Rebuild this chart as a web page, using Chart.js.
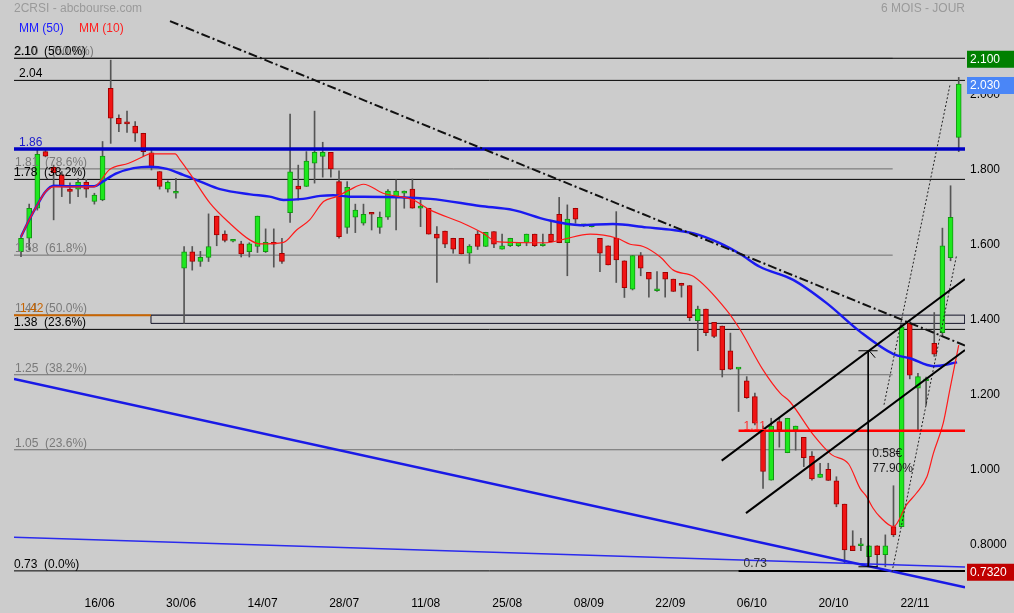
<!DOCTYPE html>
<html>
<head>
<meta charset="utf-8">
<script src="https://cdn.jsdelivr.net/npm/chart.js@4.4.1/dist/chart.umd.min.js"></script>
<style>
  html, body { margin: 0; padding: 0; background: #cccccc; overflow: hidden; }
  canvas { display: block; background: #cccccc; }
</style>
</head>
<body>
<canvas id="chart" width="1014" height="613"></canvas>
<script>
// ---- data ----
const dateTicks = [10, 20, 30, 40, 50, 60, 70, 80, 90, 100, 110];
const dateLabels = ['16/06', '30/06', '14/07', '28/07', '11/08', '25/08', '08/09', '22/09', '06/10', '20/10', '22/11'];

const open = [1.584,1.62,1.70,1.851,1.809,1.789,1.751,1.751,1.769,1.718,
  1.722,2.02,1.94,1.927,1.919,1.90,1.848,1.798,1.751,1.74,
  1.54,1.584,1.558,1.569,1.679,1.631,1.612,1.605,1.584,1.598,
  1.584,1.609,1.58,1.688,1.759,1.758,1.82,1.838,1.849,1.771,
  1.649,1.676,1.66,1.686,1.649,1.676,1.731,1.74,1.751,1.70,
  1.70,1.631,1.639,1.62,1.62,1.58,1.631,1.598,1.638,1.591,
  1.60,1.60,1.609,1.631,1.60,1.631,1.684,1.608,1.70,1.653,
  1.651,1.62,1.60,1.62,1.56,1.484,1.574,1.529,1.48,1.529,
  1.511,1.50,1.494,1.40,1.431,1.396,1.386,1.32,1.271,1.24,
  1.198,1.109,0.975,1.131,1.048,1.109,1.089,1.039,0.982,1.004,
  0.973,0.911,0.80,0.80,0.771,0.80,0.776,0.851,0.851,1.393,
  1.22,1.24,1.34,1.368,1.568,1.889];
const high = [1.625,1.711,1.855,1.855,1.815,1.798,1.768,1.78,1.777,1.74,
  1.878,2.095,1.949,1.959,1.931,1.90,1.855,1.798,1.773,1.78,
  1.598,1.598,1.585,1.685,1.679,1.64,1.615,1.612,1.608,1.679,
  1.645,1.645,1.62,1.951,1.815,1.851,1.959,1.876,1.849,1.80,
  1.771,1.711,1.711,1.687,1.69,1.75,1.776,1.746,1.778,1.722,
  1.70,1.651,1.639,1.62,1.62,1.603,1.64,1.636,1.638,1.631,
  1.62,1.609,1.631,1.631,1.631,1.666,1.729,1.709,1.70,1.656,
  1.655,1.62,1.60,1.691,1.56,1.574,1.582,1.529,1.531,1.529,
  1.511,1.50,1.494,1.439,1.431,1.396,1.386,1.367,1.273,1.251,
  1.207,1.119,1.14,1.14,1.14,1.119,1.089,1.051,1.02,1.02,
  0.984,0.911,0.84,0.82,0.80,0.80,0.829,0.96,1.39,1.40,
  1.26,1.25,1.422,1.647,1.76,2.049];
const low = [1.571,1.589,1.695,1.837,1.669,1.731,1.713,1.731,1.729,1.711,
  1.72,1.873,1.904,1.902,1.878,1.838,1.802,1.751,1.743,1.727,
  1.393,1.535,1.545,1.558,1.60,1.61,1.61,1.57,1.57,1.582,
  1.582,1.543,1.553,1.662,1.722,1.758,1.767,1.783,1.783,1.62,
  1.633,1.635,1.655,1.642,1.633,1.67,1.642,1.70,1.70,1.651,
  1.631,1.502,1.595,1.58,1.578,1.553,1.59,1.598,1.595,1.591,
  1.598,1.598,1.60,1.598,1.599,1.611,1.608,1.52,1.66,1.651,
  1.65,1.531,1.549,1.502,1.462,1.482,1.52,1.463,1.478,1.463,
  1.478,1.463,1.40,1.32,1.36,1.355,1.25,1.27,1.158,1.193,
  1.122,0.953,0.975,1.063,1.048,1.055,1.011,0.975,0.982,0.974,
  0.904,0.753,0.787,0.787,0.744,0.744,0.744,0.824,0.851,1.245,
  1.109,1.175,1.305,1.36,1.56,1.851];
const close = [1.62,1.70,1.844,1.839,1.795,1.758,1.745,1.769,1.751,1.735,
  1.839,1.94,1.925,1.925,1.90,1.851,1.809,1.758,1.769,1.745,
  1.584,1.558,1.569,1.598,1.629,1.614,1.612,1.578,1.605,1.679,
  1.609,1.604,1.558,1.797,1.751,1.826,1.849,1.849,1.805,1.624,
  1.756,1.695,1.684,1.684,1.676,1.746,1.746,1.746,1.70,1.706,
  1.631,1.62,1.604,1.591,1.578,1.599,1.598,1.636,1.604,1.60,
  1.62,1.609,1.631,1.60,1.60,1.611,1.608,1.671,1.671,1.653,
  1.651,1.58,1.549,1.562,1.488,1.574,1.54,1.511,1.48,1.511,
  1.478,1.494,1.408,1.431,1.368,1.358,1.269,1.271,1.271,1.195,
  1.127,0.998,1.119,1.109,1.14,1.119,1.035,0.978,0.991,0.974,
  0.911,0.789,0.787,0.80,0.80,0.776,0.80,0.829,1.384,1.255,
  1.251,1.245,1.311,1.60,1.676,2.031];

// moving averages, read at candle positions
const mm50Idx = [0,1,2,3,4,6,9,10,11.7,13.8,15.8,17.9,19.9,22,24.4,28.1,30.5,32.2,34.6,36.7,
  38.3,40.3,42,50.2,56.3,60.4,64.5,68.6,72.6,76.7,80,82.5,85.7,88.2,90.6,94.7,98.8,102.9,107,109,111.9,114.8];
const mm50Val = [1.624,1.669,1.709,1.744,1.76,1.759,1.759,1.771,1.793,1.807,1.811,1.805,1.789,1.771,1.751,1.737,1.731,1.722,1.725,1.733,
  1.735,1.731,1.731,1.725,1.706,1.695,1.669,1.655,1.658,1.649,1.642,1.633,1.607,1.578,1.544,1.509,1.447,1.371,1.311,1.30,1.279,1.289];
const mm10Idx = [0,1,2,3,4,8.9,10.9,13.2,15,15.8,18.9,19.5,20.7,23.2,25.6,28.1,29.3,32.2,33.8,35.4,
  37.1,38.7,40.3,42,44.4,48.1,50.2,54.2,56.7,58.3,62.4,64.5,66.5,69.8,73.1,74.7,76.3,78.4,80,82.5,
  86.5,88.2,91,93.1,94.3,97.2,99.4,101.5,102.9,103.7,104.5,105.3,107,108.6,109.8,111.1,111.9,113.1,113.9,115];
const mm10Val = [1.624,1.669,1.709,1.744,1.757,1.757,1.804,1.82,1.838,1.845,1.845,1.829,1.793,1.713,1.66,1.615,1.605,1.609,1.642,1.669,
  1.718,1.731,1.749,1.764,1.74,1.722,1.695,1.66,1.633,1.611,1.608,1.608,1.617,1.631,1.62,1.604,1.598,1.57,1.535,1.518,
  1.429,1.376,1.269,1.207,1.184,1.095,1.043,1.018,0.953,0.931,0.90,0.878,0.851,0.909,0.94,0.984,1.047,1.127,1.215,1.335];

// horizontal levels
const blackLevels = [2.10, 2.041, 1.777, 1.377, 0.733];
const blackLabels = ['2.10  (50.0%)', '2.04', '1.78  (38.2%)', '1.38  (23.6%)', '0.73  (0.0%)'];
const grayLevels = [2.10, 1.805, 1.575, 1.415, 1.256, 1.056];
const grayLabels = ['2.10    (50.0%)', '1.81  (78.6%)', '1.58  (61.8%)', '1.41  (50.0%)', '1.25  (38.2%)', '1.05  (23.6%)'];
const fibEnd = 106.9;
const blueLevel = 1.858, blueLabel = '1.86';
const orangeLevel = 1.415, orangeEnd = 15.94, orangeLabel = '1.42';
const zoneTop = 1.415, zoneBottom = 1.393, zoneStart = 15.94;
const redLevel = 1.107, redStart = 88, redLabel = '1.11';
const lowLevel = 0.733, lowStart = 88, lowLabel = '0.73';

// trend lines [candle index, price]
const dashDotLine = [[18.27, 2.199], [115.77, 1.334]];
const wedgeUpper = [[-0.86, 1.245], [115.77, 0.689]];
const wedgeLower = [[-0.86, 0.823], [115.77, 0.743]];
const channelUpper = [[85.93, 1.027], [115.77, 1.511]];
const channelLower = [[88.91, 0.887], [115.77, 1.322]];
const dottedA = [[105.84, 1.176], [113.93, 2.029]];
const dottedB = [[106.82, 0.730], [114.75, 1.576]];

// measure tool
const measureX = 103.9, measureTop = 1.32, measureBottom = 0.744;
const measureCap = [102.7, 105.05];
const measureText = ['0.58€', '77.90%'];

// right axis
const yTickVals = [0.8, 1.0, 1.2, 1.4, 1.6, 1.8, 2.0];
const yTickLabels = ['0.8000', '1.000', '1.200', '1.400', '1.600', '1.800', '2.000'];
const tagValues = [2.10, 2.03, 0.732];
const tagTexts = ['2.100', '2.030', '0.7320'];
const tagColors = ['#008000', '#4a86f7', '#c00000'];

// ---- chart ----
const FONT = '"Liberation Sans", Arial, sans-serif';
const idx = open.map((_, i) => i);
const toPts = arr => arr.map(p => ({x: p[0], y: p[1]}));
const zip = (xs, ys) => xs.map((x, k) => ({x: x, y: ys[k]}));
const hline = (v, a, b) => [{x: a, y: v}, {x: b, y: v}];
const X_MIN = -0.86, X_MAX = 115.77;

function lineSet(data, color, width, order, dash) {
  return {
    type: 'line', data: data, borderColor: color, borderWidth: width,
    borderDash: dash || [], pointRadius: 0, fill: false, tension: 0, order: order
  };
}

const datasets = [];
grayLevels.forEach(v => datasets.push(lineSet(hline(v, X_MIN, fibEnd), '#6e6e6e', 1, 20)));
blackLevels.forEach(v => datasets.push(lineSet(hline(v, X_MIN, X_MAX), '#000000', 1, 19)));
datasets.push(lineSet(hline(orangeLevel, X_MIN, orangeEnd), '#c86400', 2, 18));
datasets.push(lineSet([
  {x: zoneStart, y: zoneTop}, {x: X_MAX, y: zoneTop}, {x: X_MAX, y: zoneBottom},
  {x: zoneStart, y: zoneBottom}, {x: zoneStart, y: zoneTop}
], '#141428', 1, 18));

datasets.push({
  type: 'bar', data: idx.map(i => ({x: i, y: [low[i], high[i]]})),
  backgroundColor: '#555555', barThickness: 1, grouped: false, minBarLength: 1, order: 15
});
datasets.push({
  type: 'bar', data: idx.map(i => ({x: i, y: [open[i], close[i]]})),
  backgroundColor: idx.map(i => close[i] >= open[i] ? '#1ee81e' : '#f01414'),
  borderColor: idx.map(i => close[i] >= open[i] ? '#129612' : '#a00000'),
  borderWidth: 1, borderSkipped: false, barThickness: 5, grouped: false, minBarLength: 2, order: 14
});

datasets.push(lineSet(hline(blueLevel, X_MIN, X_MAX), '#0000c4', 3.5, 10));
const mm50 = lineSet(zip(mm50Idx, mm50Val), '#1a1af0', 2.5, 9);
mm50.cubicInterpolationMode = 'monotone';
const mm10 = lineSet(zip(mm10Idx, mm10Val), '#ff1a1a', 1.2, 8);
mm10.cubicInterpolationMode = 'monotone';
datasets.push(mm50, mm10);

datasets.push(lineSet(hline(redLevel, redStart, X_MAX), '#ff0000', 2.5, 7));
datasets.push(lineSet(hline(lowLevel, lowStart, X_MAX), '#000000', 2, 7));
datasets.push(lineSet(toPts(wedgeUpper), '#1a1ae6', 2.5, 6));
datasets.push(lineSet(toPts(wedgeLower), '#2a2aee', 1.5, 6));
datasets.push(lineSet(toPts(dashDotLine), '#111111', 2, 5, [9, 3, 2, 3]));
datasets.push(lineSet(toPts(channelUpper), '#000000', 2, 5));
datasets.push(lineSet(toPts(channelLower), '#000000', 2, 5));
datasets.push(lineSet(toPts(dottedA), '#222222', 1, 5, [2, 2]));
datasets.push(lineSet(toPts(dottedB), '#222222', 1, 5, [2, 2]));
datasets.push(lineSet([{x: measureX, y: measureTop}, {x: measureX, y: measureBottom}], '#000000', 1, 4));
datasets.push(lineSet(hline(measureTop, measureCap[0], measureCap[1]), '#000000', 1, 4));
datasets.push(lineSet(hline(measureBottom, measureCap[0], measureCap[1]), '#000000', 1, 4));

const textPlugin = {
  id: 'chartText',
  afterDatasetsDraw(chart) {
    const {ctx, chartArea: area, scales: {x, y}} = chart;
    ctx.save();
    ctx.font = '12px ' + FONT;
    ctx.textAlign = 'left';
    ctx.textBaseline = 'alphabetic';
    grayLevels.forEach((v, k) => {
      ctx.fillStyle = '#7a7a7a';
      ctx.fillText(grayLabels[k], area.left + 1, y.getPixelForValue(v) - 3);
    });
    ctx.fillStyle = '#c86400';
    ctx.fillText(orangeLabel, area.left + 6, y.getPixelForValue(orangeLevel) - 3);
    blackLevels.forEach((v, k) => {
      ctx.fillStyle = '#000000';
      ctx.fillText(blackLabels[k], area.left + (k === 1 ? 5 : 0), y.getPixelForValue(v) - 3);
    });
    ctx.fillStyle = '#1a1acc';
    ctx.fillText(blueLabel, area.left + 5, y.getPixelForValue(blueLevel) - 3);
    ctx.fillStyle = '#ff2a2a';
    ctx.fillText(redLabel, x.getPixelForValue(redStart) + 5, y.getPixelForValue(redLevel) - 1);
    ctx.fillStyle = '#333333';
    ctx.fillText(lowLabel, x.getPixelForValue(lowStart) + 5, y.getPixelForValue(lowLevel) - 4);
    ctx.fillStyle = '#1a1a1a';
    const mx = x.getPixelForValue(measureX) + 4;
    const my = y.getPixelForValue((measureTop + measureBottom) / 2);
    ctx.fillText(measureText[0], mx, my - 2);
    ctx.fillText(measureText[1], mx, my + 13);
    // small arrow tick at the top of the measure
    const ax = x.getPixelForValue(measureX), ay = y.getPixelForValue(measureTop);
    ctx.strokeStyle = '#000';
    ctx.lineWidth = 1;
    ctx.beginPath();
    ctx.moveTo(ax + 1, ay);
    ctx.lineTo(ax + 7, ay + 7);
    ctx.stroke();
    ctx.restore();
  },
  afterDraw(chart) {
    const {ctx, chartArea: area, scales: {y}} = chart;
    ctx.save();
    ctx.font = '12px ' + FONT;
    ctx.textBaseline = 'middle';
    ctx.textAlign = 'left';
    ctx.fillStyle = '#9a9a9a';
    ctx.fillText('2CRSI - abcbourse.com', 14, 9);
    ctx.textAlign = 'right';
    ctx.fillText('6 MOIS - JOUR', area.right, 9);
    ctx.textAlign = 'left';
    ctx.fillStyle = '#1a1aff';
    ctx.fillText('MM (50)', 19, 29);
    ctx.fillStyle = '#ff2020';
    ctx.fillText('MM (10)', 79, 29);
    tagValues.forEach((v, k) => {
      const py = y.getPixelForValue(v) + 1;
      ctx.fillStyle = tagColors[k];
      ctx.fillRect(area.right + 2, py - 8.5, chart.width - area.right - 2, 17);
      ctx.fillStyle = '#ffffff';
      ctx.fillText(tagTexts[k], area.right + 5, py);
    });
    ctx.restore();
  }
};

new Chart(document.getElementById('chart').getContext('2d'), {
  type: 'bar',
  data: {datasets: datasets},
  options: {
    responsive: false,
    animation: false,
    layout: {padding: {left: 14, top: 20, right: 0, bottom: 0}},
    plugins: {legend: {display: false}, tooltip: {enabled: false}},
    scales: {
      x: {
        type: 'linear', min: X_MIN, max: X_MAX, offset: false,
        grid: {display: false, drawTicks: false, offset: false},
        border: {display: false},
        afterBuildTicks: s => { s.ticks = dateTicks.map(v => ({value: v})); },
        afterFit: s => { s.height = 23; },
        ticks: {
          autoSkip: false, maxRotation: 0, padding: 6, labelOffset: -3,
          color: '#000', font: {family: FONT, size: 12},
          callback: (v, k) => dateLabels[k]
        }
      },
      y: {
        type: 'linear', position: 'right', min: 0.682, max: 2.202,
        grid: {display: false, drawTicks: false},
        border: {display: false},
        afterBuildTicks: s => { s.ticks = yTickVals.map(v => ({value: v})); },
        afterFit: s => { s.width = 49; },
        ticks: {
          padding: 5, labelOffset: -1, color: '#000', font: {family: FONT, size: 12},
          callback: (v, k) => yTickLabels[k]
        }
      }
    }
  },
  plugins: [textPlugin]
});
</script>
</body>
</html>
